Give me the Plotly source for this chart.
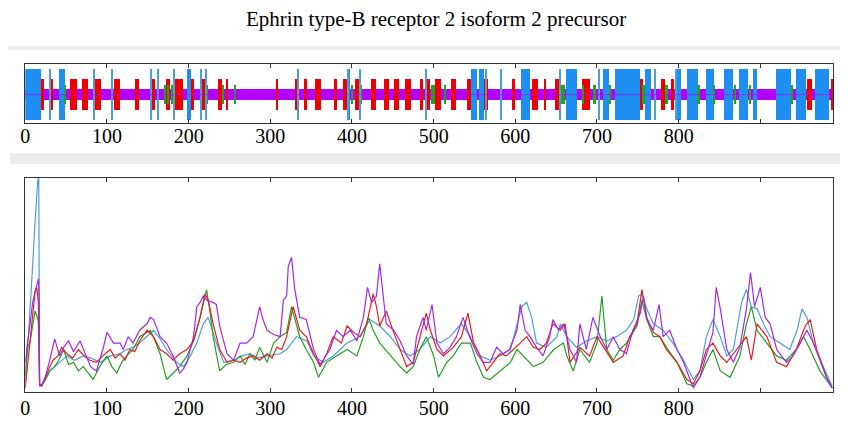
import plotly.graph_objects as go

# ---------------- data ----------------
TITLE = "Ephrin type-B receptor 2 isoform 2 precursor"
SEQ_LEN = 989
TICK_VALS = [0, 100, 200, 300, 400, 500, 600, 700, 800, 900]
TICK_TEXT = ["0", "100", "200", "300", "400", "500", "600", "700", "800", ""]

# top track: residue ranges (start, end)
RED_SEGS = [(20, 23), (30, 34), (55.5, 63.7), (70.2, 77.2), (84, 92.7), (108.6, 116), (134.3, 139.6),
            (154.7, 158.8), (173, 178), (183.3, 193.5), (203.7, 206.6), (217, 222), (236.4, 241.7),
            (245.7, 248.6), (307, 309.8), (330.2, 334.3), (341.2, 345.3), (354.7, 362.9), (378, 382),
            (389.4, 395.5), (403.7, 409.8), (424.1, 430.2), (439.2, 445.3), (451.5, 457.6), (464.9, 473.1),
            (483.3, 487.4), (492.7, 496.4), (501.7, 509.8), (522, 527.4), (541.3, 546.6), (562.1, 567),
            (596.4, 599.6), (620.9, 628.2), (635.1, 637.6), (648.6, 653.9), (682.5, 691.4), (753.5, 756.8),
            (779.2, 783.3), (791.4, 794.3), (957.6, 964.1), (986.5, 989)]
BLUE_SEGS = [(0, 19), (41.7, 48.6), (198.8, 203.7), (395.5, 397.6), (546.6, 553.9), (556, 562.1),
             (607, 618), (662.9, 676), (707.8, 715.1), (722.1, 753.5), (758.8, 766.2), (798.4, 803.7),
             (811, 824), (834.3, 843.3), (855.5, 866.9), (874.3, 885.3), (891.5, 896.4), (919.2, 938.4),
             (943.7, 956.8), (967.4, 984.5)]
BLUE_LINES = [30.2, 84.1, 107, 154.7, 162.5, 182, 216, 221.3, 334.3, 395.5, 409.8, 491.5, 565, 583.3,
              655.5, 702.5, 771, 797.6]
GREEN_SEGS = [(48.6, 50.6), (170.2, 173.1), (175, 176), (179, 181), (222, 224), (241.7, 243.7),
              (256.8, 258.8), (399.6, 401.7), (411.5, 412.5), (497.6, 501.7), (513.9, 516), (656.8, 660.8),
              (682.5, 684.1), (695.5, 699.6), (715.1, 718), (756, 758.8), (783.3, 787.4), (824, 826),
              (842.5, 844.5), (869, 871), (887.4, 889.4), (938.4, 940.4)]

# bottom profiles: (residue, score)
BLUE_PTS = [(0,0.05),(2,0.21),(4,0.27),(6,0.42),(8,0.55),(10,0.66),(12,0.80),(14,0.92),(15.5,1.0),(16.5,1.0),
            (17.5,0.04),(20,0.03),(25,0.07),(30,0.10),(36,0.12),(44,0.15),(51,0.17),(60,0.15),(71,0.17),(80,0.16),
            (92,0.14),(104,0.17),(116,0.18),(124,0.20),(132,0.21),(140,0.23),(149,0.26),(157,0.29),(165,0.25),
            (173,0.20),(185,0.14),(194,0.12),(202,0.17),(210,0.23),(218,0.32),(224,0.35),(234,0.23),(243,0.14),
            (255,0.15),(265,0.17),(275,0.18),(285,0.16),(296,0.17),(312,0.18),(320,0.20),(332,0.26),(345,0.24),
            (353,0.17),(365,0.14),(377,0.17),(394,0.23),(410,0.26),(422,0.34),(434,0.31),(447,0.26),(459,0.20),
            (471,0.17),(483,0.20),(496,0.26),(508,0.23),(520,0.26),(534,0.32),(545,0.26),(557,0.17),(569,0.15),
            (581,0.17),(594,0.20),(602,0.32),(608,0.40),(614,0.42),(620,0.35),(626,0.23),(638,0.21),(651,0.26),
            (655,0.32),(663,0.26),(675,0.21),(687,0.24),(700,0.26),(712,0.24),(724,0.26),(736,0.29),(745,0.34),
            (751,0.45),(755,0.46),(761,0.39),(769,0.32),(781,0.29),(793,0.23),(806,0.15),(818,0.06),(826,0.10),
            (834,0.26),(842,0.34),(851,0.26),(859,0.17),(867,0.20),(877,0.42),(883,0.48),(889,0.40),(896,0.39),
            (904,0.32),(912,0.26),(924,0.23),(936,0.20),(945,0.29),(951,0.39),(957,0.35),(965,0.23),(977,0.12),
            (988,0.03)]
GREEN_PTS = [(0,0.08),(3,0.21),(6,0.24),(9,0.31),(12,0.38),(14,0.36),(16,0.33),(17.5,0.04),(20,0.03),(25,0.06),
             (30,0.10),(36,0.12),(41,0.15),(47,0.20),(53,0.13),(59,0.14),(65,0.10),(71,0.12),(77,0.09),(83,0.06),
             (91,0.12),(100,0.17),(106,0.12),(112,0.09),(118,0.14),(124,0.17),(132,0.20),(140,0.26),(153,0.29),
             (159,0.24),(165,0.18),(173,0.06),(181,0.09),(189,0.12),(198,0.17),(206,0.24),(214,0.35),(222,0.48),
             (226,0.38),(230,0.26),(238,0.10),(246,0.13),(255,0.14),(263,0.17),(269,0.13),(275,0.18),(281,0.15),
             (287,0.21),(296,0.14),(304,0.23),(312,0.26),(320,0.28),(326,0.40),(336,0.26),(344,0.20),(353,0.14),
             (359,0.07),(369,0.14),(381,0.17),(394,0.20),(406,0.17),(414,0.26),(420,0.35),(426,0.29),(434,0.23),
             (447,0.17),(459,0.12),(467,0.09),(475,0.12),(483,0.20),(491,0.26),(500,0.17),(506,0.07),(516,0.14),
             (524,0.17),(534,0.23),(545,0.23),(553,0.14),(561,0.07),(569,0.06),(581,0.10),(594,0.14),(602,0.20),
             (610,0.17),(622,0.12),(634,0.14),(647,0.20),(659,0.23),(663,0.17),(671,0.10),(679,0.20),(691,0.14),
             (700,0.23),(706,0.45),(712,0.20),(720,0.15),(728,0.20),(736,0.23),(749,0.31),(755,0.43),(761,0.34),
             (769,0.26),(777,0.26),(785,0.21),(798,0.14),(810,0.04),(818,0.03),(826,0.07),(834,0.14),(842,0.20),
             (851,0.10),(863,0.07),(875,0.17),(883,0.32),(889,0.40),(896,0.29),(908,0.23),(920,0.17),(932,0.15),
             (944,0.20),(953,0.26),(961,0.20),(973,0.10),(988,0.02)]
RED_PTS = [(0,0.02),(3,0.14),(6,0.27),(9,0.36),(12,0.47),(14,0.49),(16,0.42),(17.5,0.04),(20,0.03),(25,0.07),
           (30,0.12),(34,0.15),(40,0.17),(44.5,0.21),(51,0.18),(58,0.16),(65,0.20),(72,0.17),(79,0.15),(87,0.14),
           (95,0.17),(104,0.20),(110,0.16),(116,0.18),(122,0.15),(128,0.20),(134,0.19),(140,0.24),(149,0.29),
           (157,0.26),(165,0.20),(173,0.18),(181,0.15),(189,0.18),(198,0.20),(206,0.24),(214,0.35),(220,0.46),
           (224,0.43),(230,0.32),(238,0.20),(247,0.14),(255,0.15),(263,0.14),(271,0.16),(279,0.17),(287,0.15),
           (296,0.18),(302,0.16),(308,0.21),(314,0.20),(320,0.26),(328,0.40),(336,0.29),(344,0.26),(353,0.18),
           (361,0.12),(369,0.18),(377,0.26),(387,0.23),(394,0.31),(402,0.28),(410,0.26),(418,0.32),(426,0.46),
           (430,0.40),(434,0.31),(442,0.38),(451,0.28),(459,0.20),(467,0.12),(475,0.14),(483,0.26),(491,0.37),
           (496,0.29),(504,0.20),(512,0.17),(524,0.21),(534,0.26),(542,0.37),(549,0.23),(557,0.17),(565,0.10),
           (573,0.14),(581,0.18),(589,0.17),(598,0.20),(606,0.23),(614,0.26),(622,0.21),(630,0.20),(638,0.23),
           (646,0.32),(655,0.29),(661,0.32),(667,0.14),(679,0.21),(691,0.17),(700,0.26),(708,0.21),(720,0.14),
           (732,0.17),(740,0.26),(749,0.32),(755,0.48),(761,0.35),(769,0.28),(777,0.26),(785,0.20),(798,0.14),
           (810,0.06),(818,0.04),(826,0.10),(834,0.20),(842,0.23),(851,0.17),(859,0.14),(871,0.20),(883,0.26),
           (889,0.15),(896,0.32),(908,0.26),(920,0.14),(932,0.12),(944,0.20),(955,0.31),(961,0.34),(969,0.20),
           (981,0.07),(988,0.02)]
PURPLE_PTS = [(0,0.14),(3,0.24),(6,0.33),(9,0.42),(12,0.47),(14,0.50),(16,0.53),(17,0.45),(17.5,0.03),(20,0.03),
              (25,0.08),(30,0.15),(36,0.25),(42,0.17),(47,0.21),(53,0.24),(59,0.19),(67,0.24),(75,0.17),(80,0.12),
              (87,0.10),(95,0.20),(100,0.28),(108,0.23),(116,0.23),(120,0.20),(126,0.26),(132,0.23),(140,0.29),
              (149,0.32),(153,0.35),(157,0.34),(165,0.26),(173,0.23),(181,0.17),(189,0.09),(194,0.11),(198,0.14),
              (206,0.26),(210,0.40),(214,0.42),(218,0.45),(222,0.43),(230,0.42),(234,0.41),(238,0.31),(247,0.18),
              (255,0.15),(263,0.23),(271,0.23),(279,0.26),(287,0.40),(291,0.34),(296,0.29),(304,0.27),(312,0.26),
              (316,0.43),(320,0.45),(322,0.59),(326,0.63),(330,0.48),(336,0.35),(344,0.34),(353,0.20),(361,0.13),
              (373,0.20),(381,0.29),(389,0.26),(398,0.29),(406,0.24),(414,0.35),(419,0.49),(424,0.42),(430,0.45),
              (434,0.60),(438,0.45),(442,0.32),(451,0.29),(459,0.24),(467,0.17),(475,0.13),(479,0.26),(487,0.35),
              (491,0.29),(498,0.41),(504,0.23),(512,0.18),(520,0.21),(528,0.26),(536,0.35),(544,0.26),(553,0.18),
              (561,0.14),(569,0.14),(577,0.21),(585,0.18),(593,0.20),(602,0.29),(606,0.41),(612,0.29),(618,0.26),
              (626,0.21),(634,0.17),(642,0.26),(646,0.34),(653,0.29),(659,0.32),(667,0.20),(675,0.14),(679,0.32),
              (687,0.20),(695,0.35),(704,0.26),(712,0.20),(720,0.26),(728,0.20),(736,0.18),(744,0.29),(753,0.37),
              (757,0.45),(761,0.34),(769,0.29),(776,0.41),(781,0.26),(789,0.29),(798,0.20),(806,0.14),(814,0.06),
              (818,0.02),(826,0.07),(834,0.17),(842,0.28),(846,0.49),(851,0.39),(859,0.20),(867,0.14),(875,0.21),
              (883,0.39),(888,0.56),(893,0.40),(900,0.49),(906,0.35),(912,0.32),(920,0.20),(932,0.14),(940,0.17),
              (949,0.23),(957,0.29),(965,0.23),(973,0.15),(981,0.07),(988,0.02)]

# ---------------- styles ----------------
C_MAG = "#b400ff"
C_RED = "#ee0000"
C_BLUE = "#1e8ff0"
C_GREEN = "#1fa51f"
L_BLUE = "#4a9fd8"
L_RED = "#e0201e"
L_GREEN = "#22a022"
L_PURPLE = "#a528e8"
FONT_SERIF = "Liberation Serif, Times New Roman, serif"

# vertical extents in the top track (axis units 0..1)
BAND = (0.395, 0.576)
RED_Y = (0.225, 0.746)
BLUE_Y = (0.056, 0.915)
GREEN_Y = (0.327, 0.649)

fig = go.Figure()


def seg_bar(segs, yr, color, name):
    xs = [(a + b) / 2 for a, b in segs]
    ws = [b - a for a, b in segs]
    fig.add_trace(go.Bar(x=xs, width=ws, y=[yr[1] - yr[0]] * len(segs), base=[yr[0]] * len(segs),
                         marker=dict(color=color, line=dict(width=0)), name=name, showlegend=False,
                         xaxis="x", yaxis="y", hoverinfo="skip"))


seg_bar([(0, SEQ_LEN)], BAND, C_MAG, "band")
seg_bar(RED_SEGS, RED_Y, C_RED, "red")
seg_bar(BLUE_SEGS, BLUE_Y, C_BLUE, "blue")
seg_bar(GREEN_SEGS, GREEN_Y, C_GREEN, "green")
seg_bar([(p - 0.6, p + 0.6) for p in BLUE_LINES], BLUE_Y, L_BLUE, "blue lines")
fig.add_trace(go.Scatter(x=[0, SEQ_LEN], y=[sum(BAND) / 2] * 2, mode="lines",
                         line=dict(color=C_MAG, width=1), opacity=0.6, showlegend=False,
                         xaxis="x", yaxis="y", hoverinfo="skip"))

for pts, col in [(BLUE_PTS, L_BLUE), (GREEN_PTS, L_GREEN), (RED_PTS, L_RED), (PURPLE_PTS, L_PURPLE)]:
    fig.add_trace(go.Scatter(x=[p[0] for p in pts], y=[p[1] for p in pts], mode="lines",
                             line=dict(color=col, width=1.2), showlegend=False,
                             xaxis="x2", yaxis="y2", cliponaxis=True))

# the page body has an 8px margin: figure is placed at (8, 8)
OFF = 8
W, H = 840, 413


def fx(px):
    return (px - OFF) / W


def fy(py):
    return 1 - (py - OFF) / H


xdom = [fx(25.3), fx(833)]
axis_common = dict(range=[0, SEQ_LEN], showline=True, linecolor="#333", linewidth=1, mirror="ticks",
                   ticks="inside", ticklen=4, tickcolor="#333", tickvals=TICK_VALS, ticktext=TICK_TEXT,
                   tickfont=dict(family=FONT_SERIF, size=20, color="black"), showgrid=False,
                   zeroline=False, domain=xdom, fixedrange=True, automargin=False)
yaxis_common = dict(range=[0, 1], showline=True, linecolor="#333", linewidth=1, mirror=True,
                    showticklabels=False, ticks="", showgrid=False, zeroline=False, fixedrange=True,
                    automargin=False)

fig.update_layout(
    width=W, height=H, margin=dict(l=0, r=0, t=0, b=0, autoexpand=False),
    paper_bgcolor="white", plot_bgcolor="white", barmode="overlay", bargap=0,
    showlegend=False,
    xaxis=dict(axis_common, anchor="y", ticklabelstandoff=-5),
    yaxis=dict(yaxis_common, domain=[fy(123.3), fy(64.3)], anchor="x"),
    xaxis2=dict(axis_common, anchor="y2", ticklabelstandoff=-2),
    yaxis2=dict(yaxis_common, domain=[fy(392.3), fy(178.3)], anchor="x2"),
    shapes=[
        dict(type="rect", xref="paper", yref="paper", x0=0, x1=1, y0=fy(50), y1=fy(46),
             fillcolor="#ececec", line=dict(width=0), layer="below"),
        dict(type="rect", xref="paper", yref="paper", x0=fx(10), x1=1, y0=fy(164), y1=fy(153),
             fillcolor="#ececec", line=dict(width=0), layer="below"),
    ],
    annotations=[dict(text=TITLE, x=fx(435.5), y=fy(19), xref="paper", yref="paper", showarrow=False,
                      xanchor="center", yanchor="middle",
                      font=dict(family=FONT_SERIF, size=21, color="black"))],
)

fig.write_html("out.html")
